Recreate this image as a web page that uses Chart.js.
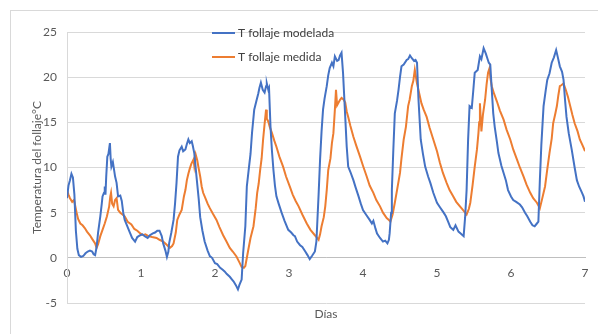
<!DOCTYPE html>
<html>
<head>
<meta charset="utf-8">
<script src="https://cdn.jsdelivr.net/npm/chart.js@4/dist/chart.umd.min.js"></script>
<style>
    html, body {
        margin: 0;
        padding: 0;
        background: #ffffff;
    }

    #wrap {
        position: relative;
        width: 598px;
        height: 334px;
        overflow: hidden;
    }

    #frame {
        position: absolute;
        left: 10px;
        top: 10px;
        width: 620px;
        height: 360px;
        border: 1px solid #d9d9d9;
    }

    #chart {
        position: absolute;
        left: 0;
        top: 0;
    }
</style>
</head>
<body>
<div id="wrap">
    <div id="frame"></div>
    <canvas id="chart" width="598" height="334"></canvas>
</div>
<script>
// Leaf temperature, modelled vs measured, over 7 days

const seriesLabels = ["T follaje modelada", "T follaje medida"];

const yTicks = [-5, 0, 5, 10, 15, 20, 25];
const xTicks = [0, 1, 2, 3, 4, 5, 6, 7];

const daysModel = [
    0.00, 0.02, 0.04, 0.06, 0.08, 0.10, 0.12, 0.14, 0.16, 0.19, 0.22, 0.25, 0.28, 0.31, 0.34, 0.36, 0.38, 0.40,
    0.42, 0.45, 0.47, 0.48, 0.50, 0.51, 0.52, 0.53, 0.545, 0.56, 0.58, 0.59, 0.60, 0.62, 0.65, 0.67, 0.69, 0.72,
    0.74, 0.76, 0.78, 0.81, 0.85, 0.88, 0.92, 0.95, 0.99, 1.02, 1.05, 1.09, 1.12, 1.16, 1.19, 1.22, 1.25, 1.28,
    1.30, 1.33, 1.35, 1.37, 1.38, 1.41, 1.44, 1.46, 1.48, 1.50, 1.52, 1.55, 1.57, 1.60, 1.62, 1.64, 1.66, 1.685,
    1.70, 1.72, 1.75, 1.78, 1.80, 1.83, 1.86, 1.90, 1.93, 1.96, 2.00, 2.03, 2.07, 2.10, 2.13, 2.16, 2.20, 2.23,
    2.25, 2.28, 2.31, 2.33, 2.36, 2.38, 2.41, 2.43, 2.46, 2.48, 2.50, 2.53, 2.56, 2.585, 2.60, 2.62, 2.645, 2.67,
    2.69, 2.70, 2.72, 2.73, 2.75, 2.77, 2.79, 2.81, 2.83, 2.86, 2.90, 2.94, 2.99, 3.03, 3.06, 3.08, 3.11, 3.15,
    3.18, 3.22, 3.25, 3.28, 3.31, 3.35, 3.37, 3.38, 3.40, 3.42, 3.44, 3.46, 3.48, 3.51, 3.53, 3.55, 3.58, 3.60,
    3.62, 3.65, 3.67, 3.69, 3.71, 3.73, 3.76, 3.78, 3.80, 3.83, 3.87, 3.90, 3.94, 3.97, 4.00, 4.04, 4.09, 4.12,
    4.14, 4.17, 4.19, 4.23, 4.27, 4.30, 4.33, 4.35, 4.36, 4.38, 4.39, 4.41, 4.43, 4.46, 4.48, 4.50, 4.52, 4.55,
    4.59, 4.61, 4.635, 4.66, 4.69, 4.71, 4.73, 4.75, 4.78, 4.81, 4.84, 4.88, 4.91, 4.95, 5.00, 5.04, 5.09, 5.12,
    5.15, 5.18, 5.22, 5.25, 5.29, 5.32, 5.36, 5.38, 5.40, 5.42, 5.44, 5.47, 5.49, 5.51, 5.55, 5.58, 5.60, 5.63,
    5.66, 5.68, 5.70, 5.72, 5.74, 5.76, 5.78, 5.81, 5.83, 5.87, 5.90, 5.93, 5.96, 6.00, 6.03, 6.07, 6.12, 6.15,
    6.19, 6.22, 6.26, 6.29, 6.32, 6.35, 6.37, 6.39, 6.41, 6.44, 6.47, 6.49, 6.52, 6.55, 6.58, 6.61, 6.63, 6.66,
    6.69, 6.71, 6.73, 6.75, 6.78, 6.82, 6.86, 6.89, 6.92, 6.96, 6.98, 7.00
];

const tempModel = [
    6.6, 8.0, 8.6, 9.3, 8.9, 7.0, 3.0, 1.0, 0.3, 0.1, 0.2, 0.5, 0.7, 0.8, 0.7, 0.4, 0.3, 1.2,
    2.8, 4.6, 6.0, 6.8, 7.2, 7.9, 7.0, 9.0, 11.2, 11.5, 12.7, 11.0, 10.1, 10.6, 9.0, 8.3, 6.8, 6.9,
    6.3, 5.0, 4.2, 3.6, 2.8, 2.2, 1.8, 2.3, 2.5, 2.6, 2.4, 2.2, 2.5, 2.7, 2.8, 3.0, 3.0, 2.4,
    1.6, 0.8, 0.1, 0.7, 1.6, 2.8, 4.2, 6.0, 8.3, 11.2, 11.9, 12.3, 11.8, 12.0, 12.6, 13.1, 12.7, 12.9,
    12.4, 11.6, 9.0, 6.5, 4.5, 3.0, 1.8, 0.8, 0.2, 0.0, -0.6, -0.7, -1.1, -1.3, -1.5, -1.8, -2.1, -2.4,
    -2.6, -3.0, -3.5, -3.0, -2.4, 0.5, 3.5, 7.9, 10.1, 11.5, 13.8, 16.4, 17.4, 18.2, 18.8, 19.4, 18.6, 18.3,
    19.0, 19.3, 18.6, 18.8, 14.5, 11.8, 9.7, 8.0, 6.8, 6.0, 5.0, 4.1, 3.1, 2.8, 2.5, 2.4, 1.8, 1.4,
    1.2, 0.7, 0.3, -0.15, 0.2, 0.7, 1.8, 3.5, 7.0, 10.9, 14.0, 16.4, 17.6, 19.0, 20.2, 21.0, 21.6, 21.2,
    22.3, 21.8, 21.9, 22.4, 22.7, 20.5, 15.6, 12.3, 10.1, 9.5, 8.6, 7.8, 6.8, 6.0, 5.3, 4.8, 4.2, 3.8,
    4.1, 3.2, 2.7, 2.2, 1.8, 1.9, 1.6, 2.0, 2.7, 5.0, 7.5, 12.0, 16.0, 17.4, 18.6, 20.0, 21.2, 21.4,
    21.9, 22.0, 22.4, 22.1, 21.8, 21.9, 21.6, 17.5, 13.1, 11.5, 10.1, 9.0, 8.3, 7.2, 6.1, 5.6, 5.0, 4.6,
    4.0, 3.4, 3.1, 3.6, 2.9, 2.7, 2.4, 4.5, 7.5, 13.0, 16.8, 16.6, 18.5, 20.5, 20.8, 22.3, 22.0, 23.2,
    22.6, 22.1, 21.6, 21.4, 18.6, 16.0, 14.5, 12.8, 11.6, 10.2, 9.4, 8.6, 7.5, 6.8, 6.4, 6.2, 5.9, 5.6,
    5.0, 4.6, 4.0, 3.6, 3.5, 3.8, 4.0, 8.6, 12.5, 16.8, 18.6, 19.7, 20.4, 21.6, 22.2, 23.0, 22.3, 21.2,
    20.6, 19.7, 17.5, 15.6, 13.8, 12.0, 10.0, 8.6, 7.9, 7.2, 6.8, 6.2
];

const daysMeas = [
    0.00, 0.02, 0.04, 0.07, 0.095, 0.11, 0.13, 0.15, 0.18, 0.21, 0.24, 0.27, 0.31, 0.34, 0.38, 0.40, 0.42, 0.45,
    0.48, 0.51, 0.54, 0.57, 0.585, 0.595, 0.61, 0.63, 0.65, 0.67, 0.69, 0.72, 0.75, 0.78, 0.82, 0.87, 0.91, 0.95,
    0.99, 1.03, 1.06, 1.10, 1.15, 1.21, 1.25, 1.30, 1.34, 1.39, 1.42, 1.44, 1.47, 1.49, 1.52, 1.55, 1.58, 1.60,
    1.62, 1.64, 1.66, 1.68, 1.71, 1.72, 1.74, 1.76, 1.775, 1.80, 1.82, 1.84, 1.87, 1.90, 1.93, 1.97, 2.02, 2.06,
    2.11, 2.15, 2.20, 2.24, 2.29, 2.33, 2.36, 2.39, 2.41, 2.45, 2.48, 2.52, 2.55, 2.57, 2.59, 2.61, 2.63, 2.65,
    2.67, 2.69, 2.70, 2.72, 2.74, 2.77, 2.80, 2.83, 2.87, 2.92, 2.96, 3.01, 3.05, 3.09, 3.13, 3.18, 3.24, 3.29,
    3.35, 3.38, 3.40, 3.42, 3.44, 3.47, 3.49, 3.51, 3.53, 3.56, 3.58, 3.60, 3.62, 3.635, 3.65, 3.67, 3.69, 3.71,
    3.74, 3.76, 3.78, 3.80, 3.83, 3.87, 3.91, 3.96, 4.00, 4.05, 4.09, 4.14, 4.18, 4.23, 4.27, 4.32, 4.35, 4.37,
    4.40, 4.43, 4.46, 4.50, 4.52, 4.55, 4.58, 4.61, 4.63, 4.66, 4.68, 4.70, 4.72, 4.73, 4.76, 4.79, 4.82, 4.86,
    4.90, 4.95, 5.00, 5.04, 5.08, 5.13, 5.17, 5.22, 5.26, 5.31, 5.35, 5.38, 5.40, 5.43, 5.45, 5.48, 5.51, 5.54,
    5.56, 5.57, 5.58, 5.59, 5.60, 5.62, 5.65, 5.67, 5.69, 5.71, 5.72, 5.74, 5.77, 5.81, 5.85, 5.90, 5.94, 5.99,
    6.03, 6.08, 6.12, 6.17, 6.21, 6.26, 6.30, 6.35, 6.39, 6.42, 6.46, 6.49, 6.52, 6.55, 6.57, 6.60, 6.62, 6.64,
    6.66, 6.68, 6.71, 6.74, 6.77, 6.80, 6.83, 6.86, 6.90, 6.93, 6.97, 7.00
];

const tempMeas = [
    7.5, 7.0, 6.6, 6.2, 6.4, 5.8, 5.0, 4.3, 3.8, 3.6, 3.3, 2.9, 2.5, 2.1, 1.6, 1.1, 1.5, 2.4,
    3.1, 3.8, 4.6, 5.7, 6.8, 7.2, 6.0, 5.7, 6.4, 6.6, 5.3, 5.0, 4.8, 4.6, 4.0, 3.7, 3.2, 3.0,
    2.7, 2.5, 2.6, 2.4, 2.3, 2.2, 2.0, 1.8, 1.5, 1.1, 1.3, 1.6, 2.8, 4.2, 4.8, 5.3, 6.8, 7.5,
    8.6, 9.3, 9.9, 10.4, 10.9, 10.2, 11.4, 10.8, 10.1, 9.0, 7.9, 7.2, 6.6, 6.0, 5.5, 4.9, 4.2, 3.4,
    2.5, 1.9, 1.1, 0.7, 0.15, -0.5, -1.0, -1.1, -0.9, 0.9, 2.2, 3.5, 5.5, 7.2, 8.2, 9.7, 11.0, 13.1,
    14.8, 16.4, 15.4, 15.1, 14.5, 13.8, 13.0, 12.3, 11.2, 10.1, 9.0, 7.9, 7.0, 6.3, 5.7, 4.8, 3.8, 3.1,
    2.5, 2.2, 2.0, 2.6, 3.5, 4.5, 5.7, 7.5, 9.7, 11.0, 12.7, 13.8, 16.4, 18.6, 16.9, 17.2, 17.5, 17.7,
    17.5, 17.2, 16.2, 15.6, 14.6, 13.4, 12.4, 11.2, 10.2, 9.0, 8.0, 7.2, 6.4, 5.7, 5.0, 4.4, 4.2, 4.0,
    4.8, 6.1, 7.5, 9.4, 11.0, 13.1, 14.5, 16.8, 17.5, 19.0, 19.6, 20.8, 19.8, 19.3, 18.2, 17.1, 16.4, 15.6,
    14.4, 13.1, 11.8, 10.5, 9.4, 8.3, 7.5, 6.8, 6.2, 5.7, 5.3, 5.0, 4.8, 5.4, 6.1, 8.0, 10.1, 12.0,
    13.8, 15.0, 17.1, 15.5, 14.0, 15.8, 17.5, 19.2, 20.5, 21.0, 20.0, 19.0, 18.2, 17.3, 16.3, 15.3, 14.2, 13.1,
    12.0, 10.9, 10.0, 9.0, 8.1, 7.2, 6.6, 6.1, 5.5, 6.5, 7.9, 9.8, 11.6, 13.2, 14.9, 16.0, 16.8, 18.0,
    19.0, 19.1, 19.3, 18.6, 17.8, 16.8, 15.8, 14.9, 14.0, 13.1, 12.4, 11.8
];

const blue = "#4472C4";
const orange = "#ED7D31";
const fontFamily = "Lato, 'Open Sans', sans-serif";

function toPoints(xs, ys) {
    return xs.map((x, i) => ({ x: x, y: ys[i] }));
}

// Excel style legend, drawn inside the plot area
const insideLegend = {
    id: "insideLegend",
    afterDatasetsDraw(chart) {
        const { ctx, chartArea } = chart;
        const x0 = chartArea.left + 145;
        let y = chartArea.top + 1;

        ctx.save();
        ctx.font = "12px " + fontFamily;
        ctx.textBaseline = "middle";
        ctx.textAlign = "left";

        chart.data.datasets.forEach((ds) => {
            ctx.strokeStyle = ds.borderColor;
            ctx.lineWidth = 2;
            ctx.beginPath();
            ctx.moveTo(x0, y);
            ctx.lineTo(x0 + 23, y);
            ctx.stroke();

            ctx.fillStyle = "#404040";
            ctx.fillText(ds.label, x0 + 26, y);
            y += 24;
        });

        ctx.restore();
    },
};

new Chart(document.getElementById("chart").getContext("2d"), {
    type: "line",

    data: {
        datasets: [
            {
                label: seriesLabels[0],
                data: toPoints(daysModel, tempModel),
                borderColor: blue,
                backgroundColor: blue,
                borderWidth: 2,
                pointRadius: 0,
                tension: 0,
                xAxisID: "x",
            },
            {
                label: seriesLabels[1],
                data: toPoints(daysMeas, tempMeas),
                borderColor: orange,
                backgroundColor: orange,
                borderWidth: 2,
                pointRadius: 0,
                tension: 0,
                xAxisID: "x",
            },
        ],
    },

    options: {
        responsive: false,
        animation: false,
        events: [],

        layout: {
            padding: { left: 26, top: 32, right: 13, bottom: 9 },
        },

        scales: {
            x: {
                type: "linear",
                min: xTicks[0],
                max: xTicks[xTicks.length - 1],
                position: { y: 0 },
                afterBuildTicks: (scale) => {
                    scale.ticks = xTicks.map((v) => ({ value: v }));
                },
                ticks: {
                    color: "#595959",
                    padding: 8,
                    font: { family: fontFamily, size: 12 },
                },
                grid: { display: false, drawTicks: false },
                border: { display: true, color: "#bfbfbf" },
            },

            xTitle: {
                type: "linear",
                min: xTicks[0],
                max: xTicks[xTicks.length - 1],
                position: "bottom",
                ticks: { display: false },
                grid: { display: false, drawTicks: false },
                border: { display: false },
                title: {
                    display: true,
                    text: "Días",
                    color: "#595959",
                    font: { family: fontFamily, size: 12 },
                    padding: { top: 4, bottom: 4 },
                },
                afterFit: (scale) => {
                    scale.height = 22;
                },
            },

            y: {
                min: yTicks[0],
                max: yTicks[yTicks.length - 1],
                afterBuildTicks: (scale) => {
                    scale.ticks = yTicks.map((v) => ({ value: v }));
                },
                ticks: {
                    color: "#595959",
                    padding: 10,
                    font: { family: fontFamily, size: 12 },
                },
                grid: { color: "#d9d9d9", drawTicks: false },
                border: { display: true, color: "#d9d9d9" },
                title: {
                    display: true,
                    text: "Temperatura del follaje°C",
                    color: "#595959",
                    font: { family: fontFamily, size: 12 },
                    padding: { top: 4, bottom: 4 },
                },
                afterFit: (scale) => {
                    scale.width = 41;
                },
            },
        },

        plugins: {
            legend: { display: false },
            tooltip: { enabled: false },
        },
    },

    plugins: [insideLegend],
});
</script>
</body>
</html>
